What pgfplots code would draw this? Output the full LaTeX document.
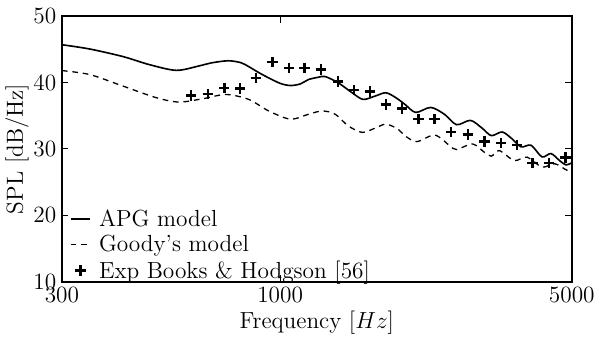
\documentclass[border=0pt]{standalone}
\usepackage{pgfplots}
\pgfplotsset{compat=1.18}
\pgfplotsset{
  shortline legend/.style={legend image code/.code={\draw[##1] plot coordinates {(0cm,0cm) (0.42cm,0cm)};}},
  mark legend/.style={legend image code/.code={\draw[##1] plot coordinates {(0.21cm,0cm)};}},
}
\begin{document}
\begin{tikzpicture}
\begin{axis}[
  scale only axis,
  width=315pt, height=164pt,
  xmode=log,
  xmin=300, xmax=5000,
  ymin=10, ymax=50,
  xtick={300,1000,5000},
  xticklabels={300,1000,5000},
  minor xtick={},
  ytick={10,20,30,40,50},
  tick align=inside,
  tick pos=both,
  major tick length=4pt,
  axis line style={line width=1.1pt},
  every tick/.style={line width=0.6pt},
  ticklabel style={font=\Large},
  label style={font=\Large},
  xlabel={Frequency [$Hz$]},
  ylabel={SPL [dB/Hz]},
  xlabel style={yshift=2pt},
  ylabel style={yshift=-4pt},
  xticklabel style={yshift=0pt},
  legend style={draw=none, fill=none, at={(0.012,-0.015)}, anchor=south west, row sep=0pt, column sep=3pt, font=\Large, inner xsep=1pt, inner ysep=1pt},
  legend cell align=left,
  after end axis/.code={\path (rel axis cs:1,1) ++(0pt,10pt);},
]
\addplot[black, line width=1pt, smooth, tension=0.5, shortline legend] coordinates {
(300,45.7) (350,45.05) (421,43.9) (486,42.7) (564,41.84) (639,42.5) (683,42.95) (750,43.28) (805,43.0) (841,42.4) (889,41.5) (939,40.7) (1003,39.85) (1059,39.55) (1119,39.8) (1169,40.45) (1235,40.8) (1283,40.9) (1379,39.95) (1488,38.46) (1581,37.46) (1689,37.96) (1793,38.46) (1894,37.72) (1991,36.72) (2114,35.5) (2296,36.25) (2479,35.2) (2648,33.65) (2859,34.3) (3052,33.1) (3208,32.0) (3407,32.55) (3599,31.5) (3782,30.3) (3995,30.55) (4242,28.8) (4458,29.3) (4683,28.2) (4840,27.6) (5000,27.9)
};
\addlegendentry{APG model}
\addplot[black, line width=0.8pt, dash pattern=on 3.5pt off 3pt, smooth, tension=0.5, shortline legend] coordinates {
(300,41.8) (350,41.2) (421,39.45) (505,37.72) (573,37.06) (654,37.57) (742,38.2) (841,37.46) (939,35.72) (1059,34.48) (1169,35.22) (1262,35.72) (1356,35.22) (1456,33.48) (1573,32.49) (1689,33.13) (1793,33.73) (1916,32.99) (1991,31.99) (2126,31.1) (2347,32.09) (2548,30.5) (2648,29.9) (2891,30.75) (3086,29.5) (3208,28.9) (3351,29.75) (3639,28.25) (3908,28.76) (4242,27.27) (4556,27.76) (4867,26.8) (5000,27.0)
};
\addlegendentry{Goody's model}
\addplot[only marks, mark=+, mark size=3.2pt, mark options={line width=1.5pt}, mark legend] coordinates {
(612,38.06) (671,38.3) (735,39.15) (802,39.1) (875,40.7) (959,43.1) (1051,42.2) (1145,42.2) (1253,41.94) (1376,40.15) (1504,38.85) (1643,38.66) (1793,36.67) (1961,36.07) (2148,34.48) (2346,34.48) (2570,32.58) (2816,32.19) (3086,31.09) (3382,30.85) (3693,30.6) (4022,27.87) (4408,27.87) (4831,28.7)
};
\addlegendentry{Exp Books \& Hodgson [56]}
\end{axis}
\end{tikzpicture}
\end{document}
